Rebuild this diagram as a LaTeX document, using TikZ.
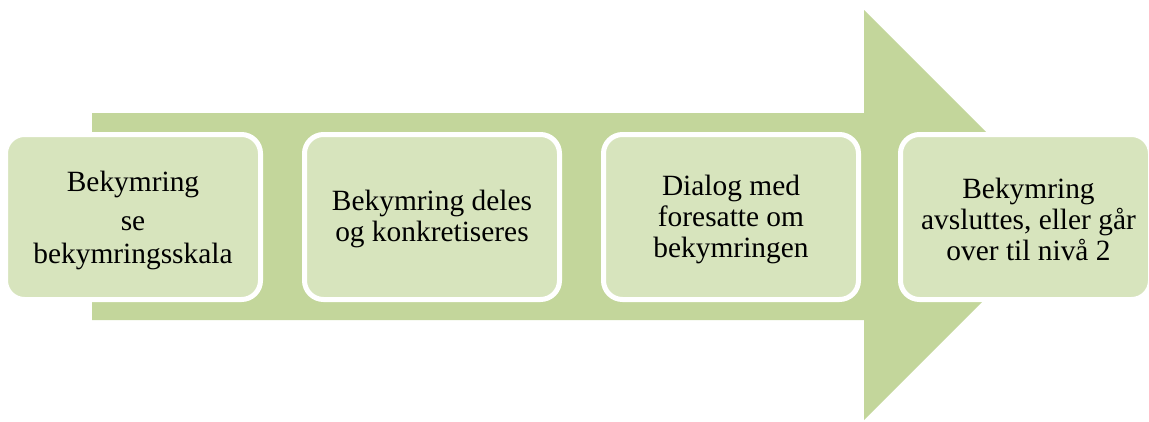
\documentclass[tikz,border=0pt]{standalone}
\usepackage{fontspec}
\setmainfont{Liberation Serif}
\definecolor{arrowgreen}{HTML}{C3D69B}
\definecolor{boxgreen}{HTML}{D7E4BD}
\begin{document}
\begin{tikzpicture}[x=1pt,y=-1pt,
  stepbox/.style={draw=white, line width=5pt, fill=boxgreen, rounded corners=19pt,
    minimum width=255pt, minimum height=165pt, inner sep=0pt},
  txt/.style={align=center, font=\fontsize{29.4}{31}\selectfont, inner sep=0pt, text=black}]
\useasboundingbox (0,0) rectangle (1149,421);
\fill[arrowgreen] (92,113) -- (864,113) -- (864,10) -- (1069,215) -- (864,420) -- (864,320) -- (92,320) -- cycle;
\node[stepbox] (b1) at (133,217) {};
\node[stepbox] (b2) at (432,217) {};
\node[stepbox] (b3) at (731,217) {};
\node[stepbox, minimum width=250pt] (b4) at (1025.5,217) {};
\node[txt] (t1) at (133,220.4) {Bekymring\\[8pt]se\\[2pt]bekymringsskala};
\node[txt] (t2) at (432,218.9) {Bekymring deles\\og konkretiseres};
\node[txt] (t3) at (731,219.3) {Dialog med\\foresatte om\\bekymringen};
\node[txt] (t4) at (1028.5,219.3) {Bekymring\\avsluttes, eller går\\over til nivå 2};
\end{tikzpicture}
\end{document}
